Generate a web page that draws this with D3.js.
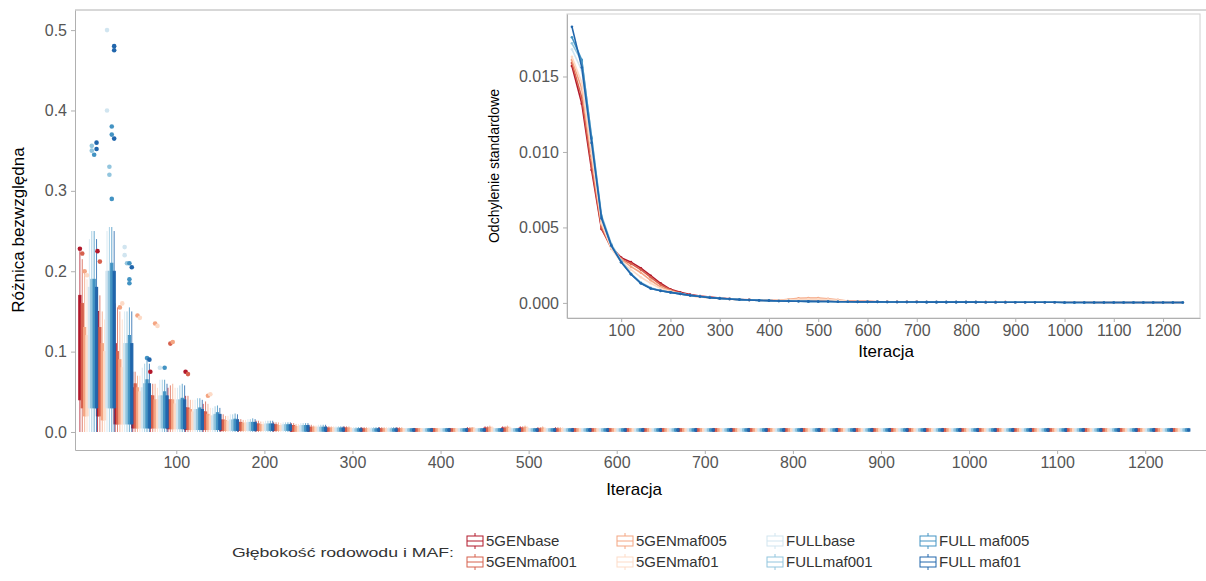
<!DOCTYPE html>
<meta charset="utf-8">
<style>
body { margin: 0; background: #fff; }
svg { font-family: 'Liberation Sans', Arial, sans-serif; }
.axis path, .axis line { stroke: #b0b0b0; }
.axis text { fill: #555; font-size: 16px; }
</style>
<body>
<svg id="chart" width="1206" height="581"></svg>

<script src="https://cdn.jsdelivr.net/npm/d3@7"></script>
<script>
// all values in thousandths
var unit = 0.001;

var seriesNames = ["5GENbase", "5GENmaf001", "5GENmaf005", "5GENmaf01",
                   "FULLbase", "FULLmaf001", "FULL maf005", "FULL maf01"];
var seriesColors = ["#b2182b", "#d6604d", "#f4a582", "#fddbc7",
                    "#d1e5f0", "#92c5de", "#4393c3", "#2166ac"];

var iterations = [0, 20, 40, 60, 80, 100, 120, 140, 160, 180, 200, 220, 240, 260, 280,
  300, 320, 340, 360, 380, 400, 420, 440, 460, 480, 500, 520, 540, 560, 580,
  600, 620, 640, 660, 680, 700, 720, 740, 760, 780, 800, 820, 840, 860, 880,
  900, 920, 940, 960, 980, 1000, 1020, 1040, 1060, 1080, 1100, 1120, 1140, 1160, 1180,
  1200, 1220, 1240];

var xTicks = [100, 200, 300, 400, 500, 600, 700, 800, 900, 1000, 1100, 1200];
var yTicks = [0, 0.1, 0.2, 0.3, 0.4, 0.5];
var insetYTicks = [0, 0.005, 0.010, 0.015];

// upper whisker per series
var boxHi = [
  [225,180,160,75,60,55,45,35,22,16,14,12,11,9,7, 7,6,6,6,5,5,5,6,7,7,7,6,6,5,5, 5,5,5,5,5,5,5,5,5,5, 5,5,5,5,5,5,5,5,5,5, 5,5,5,5,5,5,5,5,5,5, 5,5,5],
  [215,170,155,75,60,58,45,38,22,16,14,12,11,9,7, 7,6,6,6,5,5,5,6,7,7,7,6,6,5,5, 5,5,5,5,5,5,5,5,5,5, 5,5,5,5,5,5,5,5,5,5, 5,5,5,5,5,5,5,5,5,5, 5,5,5],
  [200,150,150,70,60,60,40,35,20,15,13,12,10,8,7, 7,6,6,6,5,5,5,6,8,8,8,7,6,5,5, 5,5,5,5,5,5,5,5,5,5, 5,5,5,5,5,5,5,5,5,5, 5,5,5,5,5,5,5,5,5,5, 5,5,5],
  [190,140,140,70,55,55,40,30,20,15,13,11,10,8,7, 6,6,6,5,5,5,5,6,7,7,7,6,6,5,5, 5,5,5,5,5,5,5,5,5,5, 5,5,5,5,5,5,5,5,5,5, 5,5,5,5,5,5,5,5,5,5, 5,5,5],
  [240,250,150,80,65,55,40,30,22,16,14,12,11,9,7, 6,6,6,5,5,5,5,5,5,5,5,5,5,5,5, 5,5,5,5,5,5,5,5,5,5, 5,5,5,5,5,5,5,5,5,5, 5,5,5,5,5,5,5,5,5,5, 5,5,5],
  [250,255,150,85,65,58,42,32,22,16,14,12,11,9,7, 6,6,6,5,5,5,5,5,5,5,5,5,5,5,5, 5,5,5,5,5,5,5,5,5,5, 5,5,5,5,5,5,5,5,5,5, 5,5,5,5,5,5,5,5,5,5, 5,5,5],
  [250,255,155,90,65,60,42,33,23,17,14,12,11,9,7, 6,6,6,5,5,5,5,5,5,5,5,5,5,5,5, 5,5,5,5,5,5,5,5,5,5, 5,5,5,5,5,5,5,5,5,5, 5,5,5,5,5,5,5,5,5,5, 5,5,5],
  [240,250,150,85,60,58,40,30,22,16,14,12,11,9,7, 6,6,6,5,5,5,5,5,5,5,5,5,5,5,5, 5,5,5,5,5,5,5,5,5,5, 5,5,5,5,5,5,5,5,5,5, 5,5,5,5,5,5,5,5,5,5, 5,5,5]
];

// third quartile per series
var boxQ3 = [
  [170,150,110,55,45,40,30,25,15,12,10,9,8,6,5, 5,4,4,4,4,4,4,4,5,5,5,4,4,4,4, 4,4,4,4,4,4,4,4,4,4, 4,4,4,4,4,4,4,4,4,4, 4,4,4,4,4,4,4,4,4,4, 4,4,4],
  [160,130,100,60,45,40,30,25,15,12,10,9,8,6,5, 5,4,4,4,4,4,4,4,5,5,5,4,4,4,4, 4,4,4,4,4,4,4,4,4,4, 4,4,4,4,4,4,4,4,4,4, 4,4,4,4,4,4,4,4,4,4, 4,4,4],
  [130,110,90,55,40,40,28,22,14,11,9,8,7,6,5, 5,4,4,4,4,4,4,5,6,6,6,5,4,4,4, 4,4,4,4,4,4,4,4,4,4, 4,4,4,4,4,4,4,4,4,4, 4,4,4,4,4,4,4,4,4,4, 4,4,4],
  [120,100,80,50,40,35,25,20,13,11,9,8,7,6,5, 4,4,4,4,4,4,4,4,5,5,5,4,4,4,4, 4,4,4,4,4,4,4,4,4,4, 4,4,4,4,4,4,4,4,4,4, 4,4,4,4,4,4,4,4,4,4, 4,4,4],
  [180,200,110,55,45,40,28,20,15,12,10,9,8,6,5, 4,4,4,4,4,4,4,4,4,4,4,4,4,4,4, 4,4,4,4,4,4,4,4,4,4, 4,4,4,4,4,4,4,4,4,4, 4,4,4,4,4,4,4,4,4,4, 4,4,4],
  [190,200,110,60,45,40,28,22,15,12,10,9,8,6,5, 4,4,4,4,4,4,4,4,4,4,4,4,4,4,4, 4,4,4,4,4,4,4,4,4,4, 4,4,4,4,4,4,4,4,4,4, 4,4,4,4,4,4,4,4,4,4, 4,4,4],
  [190,210,120,65,50,42,30,24,16,12,10,9,8,6,5, 4,4,4,4,4,4,4,4,4,4,4,4,4,4,4, 4,4,4,4,4,4,4,4,4,4, 4,4,4,4,4,4,4,4,4,4, 4,4,4,4,4,4,4,4,4,4, 4,4,4],
  [180,200,110,60,45,40,28,22,15,12,10,9,8,6,5, 4,4,4,4,4,4,4,4,4,4,4,4,4,4,4, 4,4,4,4,4,4,4,4,4,4, 4,4,4,4,4,4,4,4,4,4, 4,4,4,4,4,4,4,4,4,4, 4,4,4]
];

// first quartile per series
var boxQ1 = [
  [40,20,10,5,5,4,3,3,2,2,2,2,1,1,1, 1,1,1,1,1,1,1,1,1,1,1,1,1,1,1, 1,1,1,1,1,1,1,1,1,1, 1,1,1,1,1,1,1,1,1,1, 1,1,1,1,1,1,1,1,1,1, 1,1,1],
  [30,20,10,5,5,4,3,3,2,2,2,2,1,1,1, 1,1,1,1,1,1,1,1,1,1,1,1,1,1,1, 1,1,1,1,1,1,1,1,1,1, 1,1,1,1,1,1,1,1,1,1, 1,1,1,1,1,1,1,1,1,1, 1,1,1],
  [20,15,10,5,5,4,3,3,2,2,2,2,1,1,1, 1,1,1,1,1,1,1,1,1,1,1,1,1,1,1, 1,1,1,1,1,1,1,1,1,1, 1,1,1,1,1,1,1,1,1,1, 1,1,1,1,1,1,1,1,1,1, 1,1,1],
  [20,15,10,5,5,4,3,3,2,2,2,2,1,1,1, 1,1,1,1,1,1,1,1,1,1,1,1,1,1,1, 1,1,1,1,1,1,1,1,1,1, 1,1,1,1,1,1,1,1,1,1, 1,1,1,1,1,1,1,1,1,1, 1,1,1],
  [30,30,10,5,5,4,3,3,2,2,2,2,1,1,1, 1,1,1,1,1,1,1,1,1,1,1,1,1,1,1, 1,1,1,1,1,1,1,1,1,1, 1,1,1,1,1,1,1,1,1,1, 1,1,1,1,1,1,1,1,1,1, 1,1,1],
  [30,30,10,5,5,4,3,3,2,2,2,2,1,1,1, 1,1,1,1,1,1,1,1,1,1,1,1,1,1,1, 1,1,1,1,1,1,1,1,1,1, 1,1,1,1,1,1,1,1,1,1, 1,1,1,1,1,1,1,1,1,1, 1,1,1],
  [30,30,10,5,5,4,3,3,2,2,2,2,1,1,1, 1,1,1,1,1,1,1,1,1,1,1,1,1,1,1, 1,1,1,1,1,1,1,1,1,1, 1,1,1,1,1,1,1,1,1,1, 1,1,1,1,1,1,1,1,1,1, 1,1,1],
  [30,30,10,5,5,4,3,3,2,2,2,2,1,1,1, 1,1,1,1,1,1,1,1,1,1,1,1,1,1,1, 1,1,1,1,1,1,1,1,1,1, 1,1,1,1,1,1,1,1,1,1, 1,1,1,1,1,1,1,1,1,1, 1,1,1]
];

// outliers: [series index, iteration, value]
var outliers = [
  [0,0,228],[1,0,222],[2,0,200],[3,0,195],[6,0,345],[5,0,350],[5,0,356],[7,0,360],[7,0,352],
  [0,20,225],[1,20,212],[4,20,500],[4,20,400],[5,20,320],[5,20,330],[6,20,290],[6,20,370],
  [6,20,380],[7,20,475],[7,20,480],[7,20,365],
  [2,40,155],[3,40,160],[4,40,230],[4,40,220],[5,40,210],[6,40,190],[6,40,210],[7,40,205],[6,40,185],
  [2,60,145],[3,60,142],[6,60,92],[7,60,90],
  [0,80,75],[2,80,135],[3,80,132],[4,80,80],[6,80,80],
  [1,100,110],[2,100,112],
  [0,120,75],[1,120,72],
  [2,140,45],[3,140,47]
];

// standard deviation per series (inset)
var sdValues = [
  [15.7,13.2,8.8,4.9,3.7,3.0,2.7,2.3,1.8,1.3,0.9,0.7,0.55,0.45,0.38,
   0.32,0.27,0.23,0.2,0.18,0.16,0.14,0.14,0.15,0.15,0.14,0.13,0.12,0.1,0.09,
   0.09,0.08,0.08,0.07,0.07,0.07,0.06,0.06,0.06,0.06,0.05,0.05,0.05,0.05,0.05,
   0.04,0.04,0.04,0.04,0.04,0.04,0.04,0.04,0.03,0.03,0.03,0.03,0.03,0.03,0.03,
   0.03,0.03,0.03],
  [15.9,13.6,9.1,5.0,3.6,2.9,2.6,2.2,1.7,1.2,0.85,0.65,0.5,0.42,0.36,
   0.31,0.26,0.22,0.2,0.18,0.16,0.14,0.15,0.17,0.18,0.17,0.15,0.13,0.1,0.09,
   0.09,0.08,0.08,0.07,0.07,0.07,0.06,0.06,0.06,0.06,0.05,0.05,0.05,0.05,0.05,
   0.04,0.04,0.04,0.04,0.04,0.04,0.04,0.04,0.03,0.03,0.03,0.03,0.03,0.03,0.03,
   0.03,0.03,0.03],
  [16.1,14.2,9.6,5.2,3.7,2.9,2.4,2.0,1.5,1.05,0.8,0.6,0.48,0.4,0.34,
   0.3,0.26,0.22,0.2,0.18,0.17,0.18,0.24,0.3,0.32,0.32,0.28,0.2,0.12,0.1,
   0.09,0.08,0.08,0.07,0.07,0.07,0.06,0.06,0.06,0.06,0.05,0.05,0.05,0.05,0.05,
   0.04,0.04,0.04,0.04,0.04,0.04,0.04,0.04,0.03,0.03,0.03,0.03,0.03,0.03,0.03,
   0.03,0.03,0.03],
  [16.3,14.6,9.9,5.3,3.6,2.7,2.2,1.7,1.3,0.95,0.75,0.6,0.48,0.4,0.33,
   0.29,0.25,0.22,0.19,0.17,0.16,0.16,0.2,0.24,0.25,0.25,0.22,0.17,0.11,0.09,
   0.09,0.08,0.08,0.07,0.07,0.07,0.06,0.06,0.06,0.06,0.05,0.05,0.05,0.05,0.05,
   0.04,0.04,0.04,0.04,0.04,0.04,0.04,0.04,0.03,0.03,0.03,0.03,0.03,0.03,0.03,
   0.03,0.03,0.03],
  [16.8,15.4,10.6,5.6,3.8,2.7,1.9,1.3,0.95,0.8,0.7,0.6,0.5,0.42,0.35,
   0.3,0.26,0.22,0.19,0.17,0.15,0.13,0.12,0.11,0.1,0.09,0.09,0.08,0.08,0.07,
   0.07,0.07,0.06,0.06,0.06,0.06,0.05,0.05,0.05,0.05,0.05,0.05,0.04,0.04,0.04,
   0.04,0.04,0.04,0.04,0.04,0.03,0.03,0.03,0.03,0.03,0.03,0.03,0.03,0.03,0.03,
   0.03,0.03,0.03],
  [17.2,16.0,11.0,5.8,3.9,2.8,1.95,1.35,1.0,0.82,0.7,0.6,0.5,0.42,0.35,
   0.3,0.26,0.22,0.19,0.17,0.15,0.13,0.12,0.11,0.1,0.09,0.09,0.08,0.08,0.07,
   0.07,0.07,0.06,0.06,0.06,0.06,0.05,0.05,0.05,0.05,0.05,0.05,0.04,0.04,0.04,
   0.04,0.04,0.04,0.04,0.04,0.03,0.03,0.03,0.03,0.03,0.03,0.03,0.03,0.03,0.03,
   0.03,0.03,0.03],
  [17.6,16.1,10.9,5.7,3.8,2.7,1.9,1.3,0.95,0.8,0.7,0.6,0.5,0.42,0.35,
   0.3,0.26,0.22,0.19,0.17,0.15,0.13,0.12,0.11,0.1,0.09,0.09,0.08,0.08,0.07,
   0.07,0.07,0.06,0.06,0.06,0.06,0.05,0.05,0.05,0.05,0.05,0.05,0.04,0.04,0.04,
   0.04,0.04,0.04,0.04,0.04,0.03,0.03,0.03,0.03,0.03,0.03,0.03,0.03,0.03,0.03,
   0.03,0.03,0.03],
  [18.3,15.6,10.6,5.6,3.8,2.7,1.9,1.3,0.95,0.8,0.7,0.6,0.5,0.42,0.35,
   0.3,0.26,0.22,0.19,0.17,0.15,0.13,0.12,0.11,0.1,0.09,0.09,0.08,0.08,0.07,
   0.07,0.07,0.06,0.06,0.06,0.06,0.05,0.05,0.05,0.05,0.05,0.05,0.04,0.04,0.04,
   0.04,0.04,0.04,0.04,0.04,0.03,0.03,0.03,0.03,0.03,0.03,0.03,0.03,0.03,0.03,
   0.03,0.03,0.03]
];

var svg = d3.select("#chart");

// ---------- main boxplot panel ----------
var x = d3.scaleLinear().domain([-15, 1269]).range([75, 1206]);
var y = d3.scaleLinear().domain([-0.0224, 0.525]).range([450, 10]);

// dodge 8 boxes inside one iteration slot
var dodge = d3.scaleBand().domain(d3.range(seriesNames.length))
    .range([-9.5, 9.5]).paddingInner(0.02);

// top border of the panel
svg.append("line")
    .attr("x1", 75).attr("x2", 1206).attr("y1", 10).attr("y2", 10)
    .attr("stroke", "#b0b0b0");

var boxes = svg.append("g");
seriesNames.forEach(function(name, s) {
  var g = boxes.append("g").attr("stroke", seriesColors[s]).attr("fill", seriesColors[s]);
  iterations.forEach(function(it, i) {
    var cx = x(it) + dodge(s) + dodge.bandwidth() / 2;
    var w = dodge.bandwidth();
    g.append("line")
        .attr("x1", cx).attr("x2", cx)
        .attr("y1", y(boxHi[s][i] * unit)).attr("y2", y(0))
        .attr("stroke-width", 0.8);
    g.append("rect")
        .attr("x", cx - w / 2).attr("width", w)
        .attr("y", y(boxQ3[s][i] * unit))
        .attr("height", y(boxQ1[s][i] * unit) - y(boxQ3[s][i] * unit))
        .attr("stroke-width", 0.9);
  });
});

svg.append("g").selectAll("circle")
    .data(outliers)
  .enter().append("circle")
    .attr("cx", function(d) { return x(d[1]) + dodge(d[0]) + dodge.bandwidth() / 2; })
    .attr("cy", function(d) { return y(d[2] * unit); })
    .attr("r", 2.3)
    .attr("fill", function(d) { return seriesColors[d[0]]; });

svg.append("g")
    .attr("class", "axis")
    .attr("transform", "translate(0,450)")
    .call(d3.axisBottom(x).tickValues(xTicks).tickFormat(d3.format("d"))
      .tickSize(4).tickPadding(3).tickSizeOuter(0));

svg.append("g")
    .attr("class", "axis")
    .attr("transform", "translate(75,0)")
    .call(d3.axisLeft(y).tickValues(yTicks).tickFormat(d3.format(".1f"))
      .tickSize(4).tickPadding(4).tickSizeOuter(0));

svg.append("text")
    .attr("transform", "translate(24,230) rotate(-90)")
    .attr("text-anchor", "middle")
    .style("font-size", "17px")
    .text("Różnica bezwzględna");

svg.append("text")
    .attr("x", 634).attr("y", 495)
    .attr("text-anchor", "middle")
    .style("font-size", "17px")
    .text("Iteracja");

// ---------- inset: standard deviation ----------
var xi = d3.scaleLinear().domain([-10, 1275]).range([567, 1200]);
var yi = d3.scaleLinear().domain([-0.001, 0.01914]).range([318, 14]);

svg.append("rect")
    .attr("x", 567).attr("y", 14).attr("width", 633).attr("height", 304)
    .attr("fill", "#fff").attr("stroke", "#d0d0d0");

var line = d3.line()
    .x(function(d, i) { return xi(iterations[i]); })
    .y(function(d) { return yi(d * unit); });

seriesNames.forEach(function(name, s) {
  svg.append("path")
      .datum(sdValues[s])
      .attr("d", line)
      .attr("fill", "none")
      .attr("stroke", seriesColors[s])
      .attr("stroke-width", 1.6);
  svg.append("g").selectAll("circle")
      .data(sdValues[s])
    .enter().append("circle")
      .attr("cx", function(d, i) { return xi(iterations[i]); })
      .attr("cy", function(d) { return yi(d * unit); })
      .attr("r", 1.3)
      .attr("fill", seriesColors[s]);
});

svg.append("g")
    .attr("class", "axis")
    .attr("transform", "translate(0,318)")
    .call(d3.axisBottom(xi).tickValues(xTicks).tickFormat(d3.format("d"))
      .tickSize(4).tickPadding(3).tickSizeOuter(0));

svg.append("g")
    .attr("class", "axis")
    .attr("transform", "translate(567,0)")
    .call(d3.axisLeft(yi).tickValues(insetYTicks).tickFormat(d3.format(".3f"))
      .tickSize(4).tickPadding(4).tickSizeOuter(0));

svg.append("text")
    .attr("transform", "translate(499,166) rotate(-90)")
    .attr("text-anchor", "middle")
    .style("font-size", "14px")
    .text("Odchylenie standardowe");

svg.append("text")
    .attr("x", 886).attr("y", 357)
    .attr("text-anchor", "middle")
    .style("font-size", "17px")
    .text("Iteracja");

// ---------- legend ----------
var legend = svg.append("g");
legend.append("text")
    .attr("x", 232).attr("y", 557)
    .attr("textLength", 222)
    .attr("lengthAdjust", "spacingAndGlyphs")
    .style("font-size", "13px")
    .attr("fill", "#333")
    .text("Głębokość rodowodu i MAF:");

var colX = [467, 617, 767, 920];
var rowY = [541, 562];
seriesNames.forEach(function(name, s) {
  var kx = colX[Math.floor(s / 2)], ky = rowY[s % 2];
  var key = legend.append("g").attr("stroke", seriesColors[s]);
  key.append("line").attr("x1", kx + 8).attr("x2", kx + 8)
      .attr("y1", ky - 8).attr("y2", ky + 8);
  key.append("rect").attr("x", kx).attr("y", ky - 5)
      .attr("width", 16).attr("height", 10).attr("fill", "#fff");
  key.append("line").attr("x1", kx).attr("x2", kx + 16)
      .attr("y1", ky).attr("y2", ky);
  legend.append("text")
      .attr("x", kx + 19).attr("y", ky + 5)
      .style("font-size", "15px")
      .attr("fill", "#333")
      .text(name);
});
</script>
</body>
